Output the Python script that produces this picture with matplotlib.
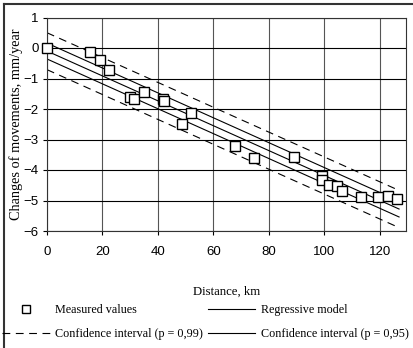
import matplotlib
matplotlib.use("Agg")
import matplotlib.pyplot as plt
from matplotlib.lines import Line2D

# measured points (distance km, change mm/year)
dist = [0, 15.6, 19.0, 22.5, 29.9, 31.4, 35.1, 41.7, 42.1, 48.8, 51.9,
        67.9, 74.8, 89.1, 99.2, 99.2, 101.6, 104.5, 106.5, 113.1, 119.5, 123.0, 126.4]
change = [0.0, -0.12, -0.40, -0.72, -1.62, -1.66, -1.45, -1.68, -1.73, -2.50, -2.13,
          -3.20, -3.61, -3.57, -4.20, -4.33, -4.48, -4.53, -4.68, -4.87, -4.90, -4.84, -4.95]

# model and confidence bands (endpoints)
line_x = [0, 127]
reg = [-0.10, -5.28]
ci95_hi = [0.16, -5.02]
ci95_lo = [-0.36, -5.54]
ci99_hi = [0.50, -4.67]
ci99_lo = [-0.71, -5.89]

xticks = [0, 20, 40, 60, 80, 100, 120]
yticks = [1, 0, -1, -2, -3, -4, -5, -6]

serif = "Liberation Serif"
sans = "Liberation Sans"

fig = plt.figure(figsize=(4.13, 3.48), dpi=100)
W, H = 413, 348
ax = fig.add_axes([47 / W, 1 - 231 / H, (406 - 47) / W, (231 - 17.5) / H])

ax.grid(True, axis="y", color="black", linewidth=0.8)
ax.grid(True, axis="x", color="#555555", linewidth=0.8)
ax.set_axisbelow(True)

dash = (7, 5)
ax.plot(line_x, ci99_hi, color="black", lw=0.8, dashes=dash)
ax.plot(line_x, ci99_lo, color="black", lw=0.8, dashes=dash)
ax.plot(line_x, ci95_hi, color="black", lw=0.8)
ax.plot(line_x, ci95_lo, color="black", lw=0.8)
ax.plot(line_x, reg, color="black", lw=0.8)
ax.plot(dist, change, ls="none", marker="s", ms=6.5, mfc="white", mec="black",
        mew=1.0, clip_on=False, zorder=5)

ax.set_xlim(0, 129.5)
ax.set_ylim(-6, 1)
ax.set_xticks(xticks)
ax.set_yticks(yticks)
ax.tick_params(direction="out", length=3, width=0.8, labelsize=9.5, pad=3)
for lab in ax.get_xticklabels() + ax.get_yticklabels():
    lab.set_fontfamily(sans)
ax.tick_params(axis="x", pad=8)
for s in ax.spines.values():
    s.set_color("#333333")
    s.set_linewidth(0.8)

ax.set_xlabel("Distance, km", family=serif, fontsize=9.2, labelpad=20)
ax.set_ylabel("Changes of movements, mm/year", family=serif, fontsize=10.3, labelpad=0.5)

handles = [
    Line2D([], [], ls="none", marker="s", ms=6, mfc="white", mec="black", mew=1.0),
    Line2D([], [], color="black", lw=0.8, dashes=dash),
    Line2D([], [], color="black", lw=0.8),
    Line2D([], [], color="black", lw=0.8),
]
labels = ["Measured values", "Confidence interval (p = 0,99)",
          "Regressive model", "Confidence interval (p = 0,95)"]
fig.legend(handles, labels, ncol=2, loc="center left",
           bbox_to_anchor=(0.0, 1 - 322 / H), frameon=False,
           prop={"family": serif, "size": 8.7}, handlelength=3.9,
           handletextpad=0.45, columnspacing=0.45, labelspacing=0.95,
           borderaxespad=0, borderpad=0.2)

# outer frame (left and top edges)
fig.add_artist(Line2D([3.5 / W, 3.5 / W], [0, 1 - 4 / H], color="#333333",
                      lw=1.5, transform=fig.transFigure))
fig.add_artist(Line2D([3.5 / W, 1], [1 - 4 / H, 1 - 4 / H], color="#333333",
                      lw=1.5, transform=fig.transFigure))

fig.savefig("out.png", dpi=100)
